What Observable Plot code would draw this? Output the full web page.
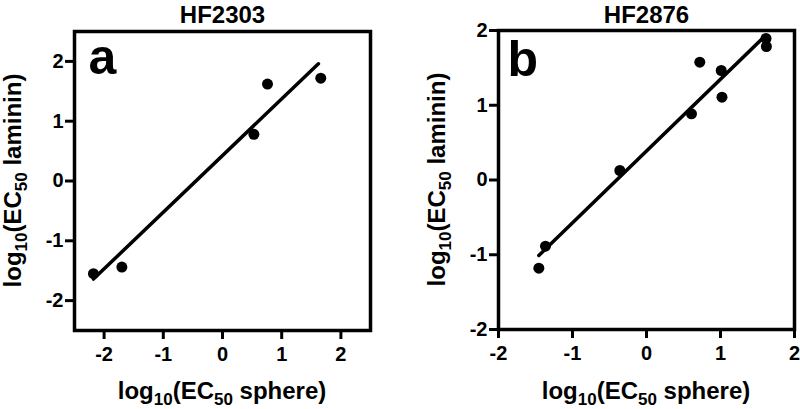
<!DOCTYPE html>
<html><head><meta charset="utf-8">
<script src="https://cdn.jsdelivr.net/npm/d3@7"></script>
<script src="https://cdn.jsdelivr.net/npm/@observablehq/plot@0.6"></script>
<style>
body{margin:0;background:#fff;}
#wrap{display:flex;width:800px;height:409px;overflow:hidden;}
#wrap svg{flex:none;}
</style></head><body><div id="wrap"></div>
<script>
// ---- data ----
const tickValues = [-2, -1, 0, 1, 2];

const titleA = "HF2303";
const letterA = "a";
const sphereA  = [-2.18, -1.70, 0.53, 0.76, 1.66];
const lamininA = [-1.55, -1.44, 0.78, 1.62, 1.72];
const fitSphereA  = [-2.18, 1.62];
const fitLamininA = [-1.64, 1.96];
const domainA = [-2.5, 2.5];

const titleB = "HF2876";
const letterB = "b";
const sphereB  = [-1.455, -1.365, -0.36, 0.608, 0.72, 1.01, 1.02, 1.615, 1.62];
const lamininB = [-1.18, -0.886, 0.127, 0.886, 1.576, 1.465, 1.108, 1.893, 1.786];
const fitSphereB  = [-1.455, 1.608];
const fitLamininB = [-1.01, 1.933];
const domainB = [-2, 2];

const FONT = "'Liberation Sans', Arial, Helvetica, sans-serif";

function subLabel(sel, parts, mainSize, subSize, shift) {
  const t = sel.append("text")
    .attr("text-anchor", "middle")
    .attr("font-family", FONT)
    .attr("font-weight", "bold")
    .attr("font-size", mainSize)
    .attr("fill", "#000")
    .style("white-space", "pre");
  let cur = 0;
  for (const [s, isSub] of parts) {
    const target = isSub ? shift : 0;
    t.append("tspan")
      .attr("font-size", isSub ? subSize : mainSize)
      .attr("dy", target - cur)
      .text(s);
    cur = target;
  }
  return t;
}

function panel(cfg) {
  const pts = cfg.xs.map((x, i) => ({x, y: cfg.ys[i]}));
  const fit = cfg.fx.map((x, i) => ({x, y: cfg.fy[i]}));
  const [ml, mr, mt, mb] = cfg.m;
  const plot = Plot.plot({
    width: 400, height: 409,
    marginLeft: ml, marginRight: mr, marginTop: mt, marginBottom: mb,
    style: {fontFamily: FONT, fontWeight: "bold", fontSize: "20px", color: "#000", background: "#fff", overflow: "visible"},
    x: {domain: cfg.xd},
    y: {domain: cfg.yd},
    marks: [
      Plot.axisX({ticks: tickValues, tickSize: 9, tickPadding: 7, strokeWidth: 3, tickFormat: d => String(d), label: null, fontSize: 20}),
      Plot.axisY({ticks: tickValues, tickSize: 9, tickPadding: 2, strokeWidth: 3, tickFormat: d => String(d), label: null, fontSize: 20}),
      Plot.frame({strokeWidth: 3.5, stroke: "#000"}),
      Plot.line(fit, {x: "x", y: "y", stroke: "#000", strokeWidth: 3.5}),
      Plot.dot(pts, {x: "x", y: "y", r: 5.5, fill: "#000", stroke: "none"}),
      Plot.text([cfg.title], {text: d => d, frameAnchor: "top", lineAnchor: "bottom", dy: 22 - mt, fontSize: 24, fontWeight: "bold"}),
      Plot.text([cfg.letter], {text: d => d, frameAnchor: "top-left", textAnchor: "start", lineAnchor: "top", dx: cfg.lp[0], dy: cfg.lp[1], fontSize: 50, fontWeight: "bold"})
    ]
  });
  const svg = d3.select(plot);
  const xr = plot.scale("x").range, yr = plot.scale("y").range;
  const cx = (xr[0] + xr[1]) / 2, cy = (yr[0] + yr[1]) / 2;
  const parts = (word) => [["log", false], ["10", true], ["(EC", false], ["50", true], [" " + word + ")", false]];
  subLabel(svg.append("g").attr("transform", `translate(${cx},399)`), parts("sphere"), 24, 17, 6);
  subLabel(svg.append("g").attr("transform", `translate(${cfg.ylx},${cy}) rotate(-90)`), parts("laminin"), 24, 17, 6);
  return plot;
}

const wrap = document.getElementById("wrap");
wrap.appendChild(panel({title: titleA, letter: letterA, xs: sphereA, ys: lamininA, fx: fitSphereA, fy: fitLamininA,
  xd: domainA, yd: domainA, m: [74, 30, 31, 79], lp: [14, 7], ylx: 21}));
wrap.appendChild(panel({title: titleB, letter: letterB, xs: sphereB, ys: lamininB, fx: fitSphereB, fy: fitLamininB,
  xd: domainB, yd: domainB, m: [98, 6, 30, 80], lp: [9, 10], ylx: 45}));
</script></body></html>
